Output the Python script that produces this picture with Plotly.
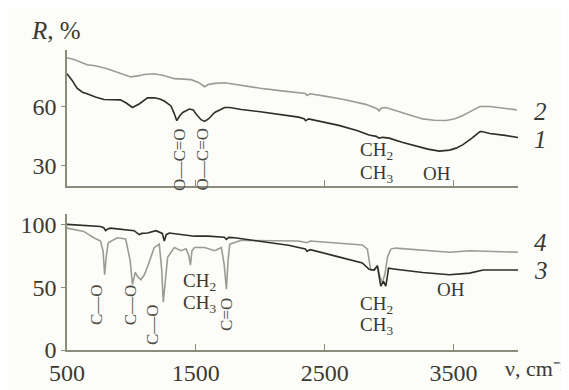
import plotly.graph_objects as go

# ---------------- data ----------------
# Top panel, curve 1 (dark)
c1_x = [500, 540, 578, 620, 656, 720, 787, 850, 914, 960, 1008, 1060, 1125, 1177, 1220, 1255, 1307, 1330, 1352,
        1375, 1398, 1450, 1480, 1502, 1540, 1568, 1600, 1646, 1724, 1763, 1853, 2000, 2150, 2297, 2340, 2352,
        2375, 2500, 2609, 2750, 2844, 2900, 2922, 2950, 3000, 3100, 3208, 3300, 3390, 3469, 3520, 3573, 3640,
        3703, 3720, 3781, 3900, 4000]
c1_y = [76.9, 73.5, 69.5, 67.5, 66.7, 65.0, 63.8, 63.7, 63.6, 62.0, 59.7, 61.5, 64.6, 64.7, 64.0, 63.0, 60.5, 57.0,
        53.0, 55.5, 57.2, 58.9, 58.5, 56.4, 53.5, 52.6, 54.0, 57.2, 59.7, 59.7, 58.7, 57.5, 56.3, 54.8, 54.0, 53.0,
        53.9, 52.0, 50.6, 48.0, 45.7, 45.0, 44.1, 44.5, 44.1, 42.0, 40.0, 38.5, 37.5, 38.0, 39.0, 40.8, 44.0,
        47.3, 47.5, 46.5, 45.5, 44.4]

# Top panel, curve 2 (grey)
c2_x = [500, 560, 656, 720, 812, 900, 995, 1050, 1100, 1177, 1250, 1333, 1400, 1463, 1520, 1568, 1600, 1646, 1724,
        1850, 2000, 2150, 2297, 2350, 2362, 2388, 2500, 2650, 2818, 2880, 2910, 2922, 2940, 2974, 3100, 3260,
        3350, 3443, 3510, 3573, 3640, 3703, 3781, 3900, 3990]
c2_y = [85.1, 84.0, 81.5, 81.0, 79.4, 77.5, 75.3, 75.8, 76.5, 76.9, 76.0, 74.4, 74.2, 73.9, 72.5, 70.3, 71.5, 72.0,
        72.3, 71.0, 69.5, 68.3, 67.4, 66.8, 65.8, 66.7, 65.5, 63.8, 61.3, 60.0, 59.0, 58.0, 59.5, 59.7, 57.0, 53.9,
        53.2, 53.1, 54.0, 55.6, 58.0, 60.2, 60.2, 59.4, 58.5]

# Bottom panel, curve 3 (dark)
c3_x = [500, 760, 785, 799, 815, 838, 1021, 1040, 1060, 1080, 1125, 1190, 1240, 1255, 1270, 1294, 1385, 1489, 1594,
        1720, 1737, 1755, 1802, 2000, 2219, 2297, 2350, 2362, 2388, 2600, 2792, 2844, 2883, 2909, 2922, 2935,
        2956, 2974, 2985, 2995, 3050, 3260, 3469, 3625, 3729, 4000]
c3_y = [100.2, 98.5, 97.5, 95.2, 96.5, 97.2, 95.2, 94.0, 92.1, 93.0, 93.3, 95.2, 93.0, 87.0, 92.0, 93.3, 92.1,
        90.8, 90.8, 90.0, 88.2, 89.8, 89.5, 86.5, 83.6, 81.8, 80.5, 78.7, 80.0, 74.5, 69.5, 64.4, 63.8, 67.0,
        60.0, 51.0, 54.8, 51.0, 58.0, 65.2, 64.4, 61.8, 60.0, 61.3, 63.8, 63.8]

# Bottom panel, curve 4 (grey)
c4_x = [500, 630, 708, 760, 780, 792, 805, 820, 890, 955, 990, 1008, 1030, 1047, 1073, 1100, 1125, 1177, 1216,
        1235, 1247, 1262, 1281, 1333, 1385, 1424, 1445, 1458, 1470, 1489, 1568, 1646, 1698, 1720, 1737, 1750,
        1763, 1853, 2219, 2297, 2362, 2388, 2792, 2831, 2857, 2883, 2909, 2927, 2948, 2969, 2987, 3013, 3050,
        3469, 3625, 4000]
c4_y = [97.2, 94.6, 89.5, 86.9, 79.0, 60.0, 75.0, 85.6, 89.5, 88.5, 71.5, 52.3, 62.0, 58.7, 56.0, 60.0, 66.4,
        81.8, 84.4, 64.0, 38.2, 56.0, 74.0, 81.8, 79.2, 80.8, 75.4, 67.7, 79.2, 81.8, 81.8, 79.2, 81.8, 68.0,
        48.5, 71.5, 84.4, 87.5, 87.5, 86.9, 85.6, 86.9, 83.8, 80.5, 63.8, 63.8, 67.7, 58.7, 53.6, 61.5, 74.0,
        80.5, 81.3, 78.0, 79.2, 78.0]

x_ticks = [500, 1500, 2500, 3500]
top_y_ticks = [30, 60]
bot_y_ticks = [0, 50, 100]

# group labels: (text, x, y, panel)
group_labels = [
    ("CH<sub>2</sub>", 2899, 37.5, "top"),
    ("CH<sub>3</sub>", 2899, 26.0, "top"),
    ("OH", 3375, 26.0, "top"),
    ("CH<sub>2</sub>", 1530, 54.0, "bot"),
    ("CH<sub>3</sub>", 1530, 36.5, "bot"),
    ("CH<sub>2</sub>", 2899, 36.0, "bot"),
    ("CH<sub>3</sub>", 2899, 19.0, "bot"),
    ("OH", 3482, 48.0, "bot"),
]
# bond labels drawn vertically: (text, x, y, panel)
bond_labels = [
    ("O—C=O", 1372, 33.2, "top"),
    ("O—C=O", 1555, 33.2, "top"),
    ("C—O", 734, 36.0, "bot"),
    ("C—O", 992, 36.0, "bot"),
    ("C—O", 1164, 20.4, "bot"),
    ("C=O", 1742, 28.0, "bot"),
]
# curve numbers: (text, y, panel)
curve_numbers = [("2", 57.5, "top"), ("1", 43.5, "top"), ("4", 85.5, "bot"), ("3", 63.5, "bot")]

DARK = "#2e2e26"
GREY = "#9c9c94"
AXIS = "#8c8c7c"
TXT = "#3a3a32"
FONT = "Times New Roman, Liberation Serif, serif"

fig = go.Figure()
fig.add_trace(go.Scatter(x=c2_x, y=c2_y, mode="lines", line=dict(color=GREY, width=1.6),
                         xaxis="x2", yaxis="y2", showlegend=False))
fig.add_trace(go.Scatter(x=c1_x, y=c1_y, mode="lines", line=dict(color=DARK, width=1.6),
                         xaxis="x2", yaxis="y2", showlegend=False))
fig.add_trace(go.Scatter(x=c4_x, y=c4_y, mode="lines", line=dict(color=GREY, width=1.6),
                         xaxis="x", yaxis="y", showlegend=False))
fig.add_trace(go.Scatter(x=c3_x, y=c3_y, mode="lines", line=dict(color=DARK, width=1.6),
                         xaxis="x", yaxis="y", showlegend=False))

xcommon = dict(range=[500, 4000], showgrid=False, zeroline=False, showline=True, linecolor=AXIS,
               linewidth=1.5, ticks="inside", ticklen=6, tickcolor=AXIS, tickvals=x_ticks,
               tickfont=dict(family=FONT, size=24, color=TXT))
ycommon = dict(showgrid=False, zeroline=False, showline=True, linecolor=AXIS, linewidth=1.5,
               ticks="outside", ticklen=4, tickcolor=AXIS, tickfont=dict(family=FONT, size=24, color=TXT))

annotations = []
for text, x, y, panel in group_labels:
    annotations.append(dict(text=text, x=x, y=y, xref="x2" if panel == "top" else "x",
                            yref="y2" if panel == "top" else "y", showarrow=False,
                            font=dict(family=FONT, size=19, color=TXT)))
for text, x, y, panel in bond_labels:
    annotations.append(dict(text=text, x=x, y=y, xref="x2" if panel == "top" else "x",
                            yref="y2" if panel == "top" else "y", showarrow=False, textangle=-90,
                            font=dict(family=FONT, size=17, color="#4a4a42")))
for text, y, panel in curve_numbers:
    annotations.append(dict(text="<i>%s</i>" % text, x=4000, y=y, xref="x2" if panel == "top" else "x",
                            yref="y2" if panel == "top" else "y", showarrow=False, xanchor="left",
                            xshift=14, font=dict(family=FONT, size=25, color=TXT)))
annotations.append(dict(text="<i>R</i>, %", x=-0.085, y=1.065, xref="paper", yref="paper",
                        xanchor="left", yanchor="middle", showarrow=False,
                        font=dict(family=FONT, size=25, color=TXT)))
annotations.append(dict(text="ν, cm⁻¹", x=1.11, y=-0.06, xref="paper", yref="paper",
                        xanchor="right", yanchor="middle", showarrow=False,
                        font=dict(family=FONT, size=22, color=TXT)))

fig.update_layout(
    width=569, height=390,
    margin=dict(l=59, r=59, t=42, b=37),
    paper_bgcolor="#fcfcf9", plot_bgcolor="#fcfcf9",
    xaxis=dict(**xcommon, domain=[0, 1], anchor="y"),
    yaxis=dict(**ycommon, domain=[0, 0.4534], range=[0, 108.5], tickvals=bot_y_ticks, anchor="x"),
    xaxis2=dict(**xcommon, domain=[0, 1], anchor="y2", showticklabels=False),
    yaxis2=dict(**ycommon, domain=[0.5466, 1], range=[19.7, 89.0], tickvals=top_y_ticks, anchor="x2"),
    annotations=annotations,
)

fig.write_html("out.html")
